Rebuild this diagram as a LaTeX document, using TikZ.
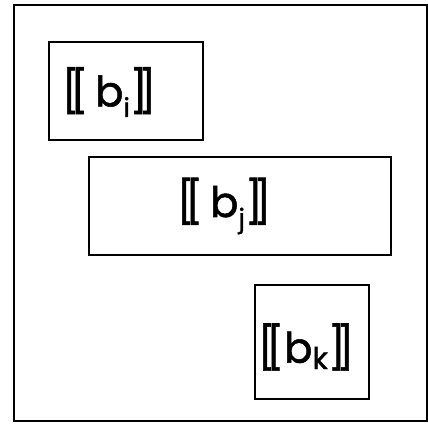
\documentclass[tikz,border=0pt]{standalone}
\usepackage{fontspec}
\setmainfont{Poppins}[FakeBold=1.3]
\newcommand{\dbl}[1]{[\kern-0.22em[\,b\raisebox{-0.25em}{\fontsize{26}{26}\selectfont #1}]\kern-0.22em]}
\tikzset{
  frame/.style={draw=black, line width=2.8pt},
  blk/.style={draw=black, line width=2.8pt, inner sep=0pt},
  lbl/.style={font=\fontsize{42}{42}\selectfont, inner sep=0pt, anchor=center}
}
\begin{document}
\begin{tikzpicture}[x=1pt,y=-1pt]
\useasboundingbox (0,0) rectangle (428,423);
\draw[frame] (14,5) rectangle (427,421);
\node[blk, minimum width=154pt, minimum height=98pt] (bi) at (126,91) {};
\node[blk, minimum width=302pt, minimum height=98pt] (bj) at (240,206) {};
\node[blk, minimum width=114pt, minimum height=114pt] (bk) at (312,342) {};
\node[lbl] (ti) at (109,92) {\dbl{i}};
\node[lbl] (tj) at (224,206) {\dbl{j}};
\node[lbl] (tk) at (306,347) {[\kern-0.22em[b\raisebox{-0.15em}{\fontsize{30}{30}\selectfont k}]\kern-0.22em]};
\end{tikzpicture}
\end{document}
